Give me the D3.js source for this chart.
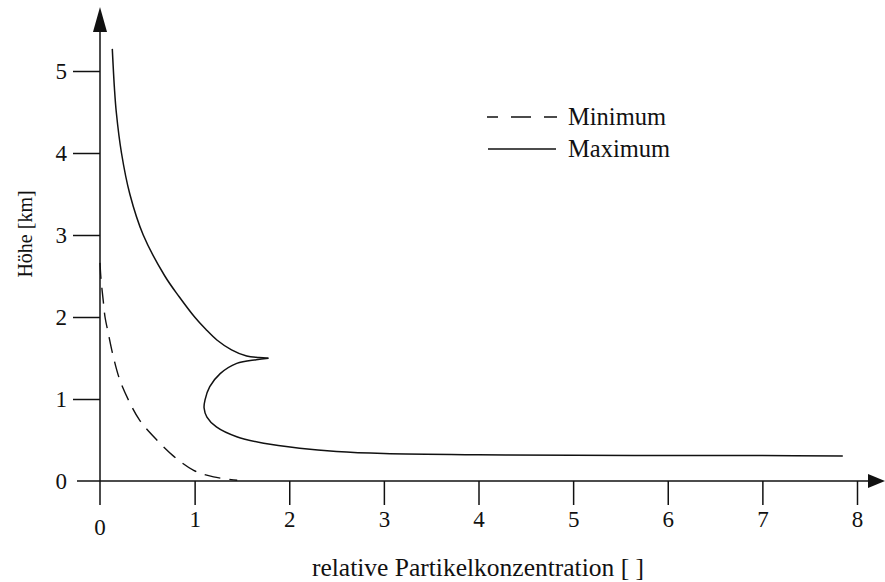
<!DOCTYPE html>
<html>
<head>
<meta charset="utf-8">
<script src="https://cdn.jsdelivr.net/npm/d3@7"></script>
<style>
  html, body { margin: 0; padding: 0; background: #fff; }
  svg { display: block; }
  text { font-family: "Liberation Serif", "DejaVu Serif", serif; fill: #111; }
</style>
</head>
<body>
<svg id="chart" width="885" height="582"></svg>
<script>
// ---- data (relative concentration, height km) ----
const xTicks = [0, 1, 2, 3, 4, 5, 6, 7, 8];
const yTicks = [0, 1, 2, 3, 4, 5];
const legendLabels = ["Minimum", "Maximum"];

const minimumCurve = [
  [0.0, 2.66], [0.008, 2.5], [0.02, 2.35], [0.035, 2.19], [0.053, 2.0],
  [0.088, 1.8], [0.14, 1.52], [0.21, 1.23], [0.30, 0.99], [0.42, 0.74],
  [0.60, 0.50], [0.78, 0.30], [0.99, 0.13], [1.2, 0.05], [1.45, 0.01]
];
const maximumUpper = [
  [0.13, 5.27], [0.152, 4.8], [0.172, 4.5], [0.227, 4.0], [0.315, 3.5],
  [0.457, 3.0], [0.685, 2.5], [0.835, 2.25], [1.0, 2.0], [1.118, 1.85],
  [1.235, 1.72], [1.39, 1.6], [1.55, 1.524], [1.68, 1.505], [1.78, 1.496]
];
const maximumLower = [
  [1.78, 1.496], [1.65, 1.48], [1.445, 1.435], [1.27, 1.31], [1.16, 1.15],
  [1.11, 0.99], [1.10, 0.89], [1.13, 0.78], [1.23, 0.66], [1.445, 0.54],
  [1.73, 0.46], [2.11, 0.40], [2.5, 0.36], [3.0, 0.335], [4, 0.32],
  [5, 0.315], [6, 0.31], [7, 0.31], [7.85, 0.305]
];

// ---- layout ----
const svg = d3.select("#chart");
const x = d3.scaleLinear().domain([0, 8]).range([100, 857]);
const y = d3.scaleLinear().domain([0, 5]).range([481, 71]);
const ink = "#111";

// axes lines with arrows
svg.append("line").attr("x1", 77).attr("x2", 870).attr("y1", y(0)).attr("y2", y(0))
  .attr("stroke", ink).attr("stroke-width", 1.5);
svg.append("path")
  .attr("d", `M885,${y(0)} L868,${y(0) - 7} L868,${y(0) + 7} Z`).attr("fill", ink);
svg.append("line").attr("x1", x(0)).attr("x2", x(0)).attr("y1", 505).attr("y2", 30)
  .attr("stroke", ink).attr("stroke-width", 1.5);
svg.append("path")
  .attr("d", `M${x(0)},7 L${x(0) - 7},32 L${x(0) + 7},32 Z`).attr("fill", ink);

// x axis ticks
const xAxis = d3.axisBottom(x).tickValues(xTicks.slice(1)).tickSize(24).tickPadding(6)
  .tickFormat(d3.format("d"));
const gx = svg.append("g").attr("transform", `translate(0,${y(0)})`).call(xAxis);
gx.select(".domain").remove();
gx.selectAll(".tick line").attr("stroke", ink).attr("stroke-width", 1.5);
gx.selectAll(".tick text").attr("font-size", 23).attr("fill", ink)
  .attr("font-family", "Liberation Serif");
svg.append("text").attr("x", x(0)).attr("y", 535).attr("text-anchor", "middle")
  .attr("font-size", 23).text(d3.format("d")(xTicks[0]));

// y axis ticks
const yAxis = d3.axisLeft(y).tickValues(yTicks.slice(1)).tickSize(27).tickPadding(6)
  .tickFormat(d3.format("d"));
const gy = svg.append("g").attr("transform", `translate(${x(0)},0)`).call(yAxis);
gy.select(".domain").remove();
gy.selectAll(".tick line").attr("stroke", ink).attr("stroke-width", 1.5);
gy.selectAll(".tick text").attr("font-size", 23).attr("fill", ink)
  .attr("font-family", "Liberation Serif");
svg.append("text").attr("x", 67).attr("y", y(0) + 8).attr("text-anchor", "end")
  .attr("font-size", 23).text(d3.format("d")(yTicks[0]));

// axis titles
svg.append("text").attr("x", 478).attr("y", 576).attr("text-anchor", "middle")
  .attr("font-size", 25.5).text("relative Partikelkonzentration [ ]");
svg.append("text").attr("transform", "translate(32,234) rotate(-90)")
  .attr("text-anchor", "middle").attr("font-size", 20).text("Höhe [km]");

// curves
const line = d3.line().x(d => x(d[0])).y(d => y(d[1])).curve(d3.curveCatmullRom.alpha(0.5));
svg.append("path").datum(minimumCurve).attr("d", line)
  .attr("fill", "none").attr("stroke", ink).attr("stroke-width", 1.4)
  .attr("stroke-dasharray", "16,9");
[maximumUpper, maximumLower].forEach(seg => {
  svg.append("path").datum(seg).attr("d", line)
    .attr("fill", "none").attr("stroke", ink).attr("stroke-width", 1.5);
});

// legend
svg.append("line").attr("x1", 487).attr("x2", 557).attr("y1", 117).attr("y2", 117)
  .attr("stroke", ink).attr("stroke-width", 1.4).attr("stroke-dasharray", "11,13,20,13,13");
svg.append("text").attr("x", 568).attr("y", 125).attr("font-size", 24.5).text(legendLabels[0]);
svg.append("line").attr("x1", 488).attr("x2", 556).attr("y1", 149).attr("y2", 149)
  .attr("stroke", ink).attr("stroke-width", 1.5);
svg.append("text").attr("x", 568).attr("y", 157).attr("font-size", 24.5).text(legendLabels[1]);
</script>
</body>
</html>
